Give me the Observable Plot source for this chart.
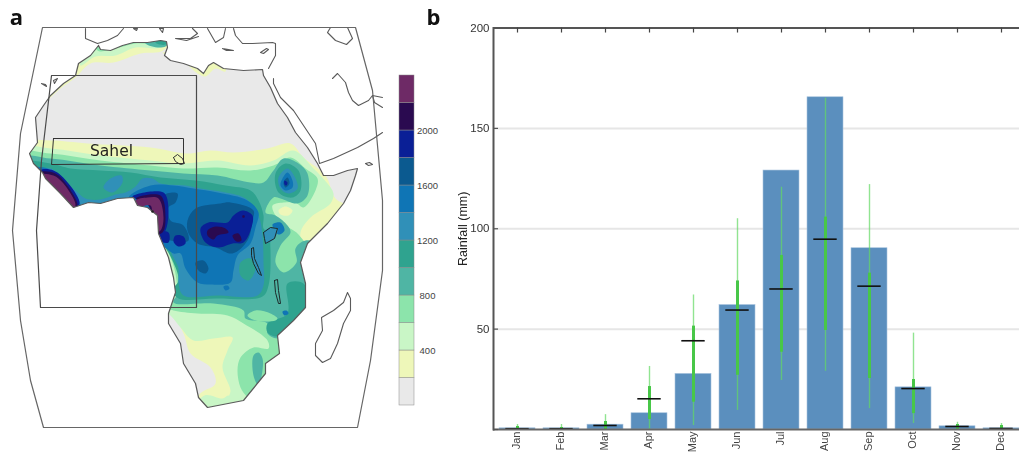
<!DOCTYPE html>
<html>
<head>
<meta charset="utf-8">
<script src="https://cdn.jsdelivr.net/npm/d3@7"></script>
<script src="https://cdn.jsdelivr.net/npm/@observablehq/plot@0.6"></script>
<style>
html,body{margin:0;padding:0;background:#fff;overflow:hidden}
#row{display:flex;width:1019px;height:453px;overflow:hidden}
#row svg{flex:none;display:block;max-width:none;filter:blur(0.45px)}
</style>
</head>
<body>
<div id="row"></div>
<script>
// ---- panel b: monthly rainfall
const months = ["Jan","Feb","Mar","Apr","May","Jun","Jul","Aug","Sep","Oct","Nov","Dec"];
const barValues = [0.6,0.6,2.4,8.1,27.7,62,129,165.5,90.3,21,1.6,0.6];
const medians   = [0.4,0.4,2,15.3,44.2,59.5,70,94.8,71.4,20.4,1.5,0.5];
const rangeLow  = [0,0,0,0,2,9.5,24.4,29,10.4,3,0,0];
const rangeHigh = [2.5,2.5,7.4,31.4,67,105,120.7,165,122,48,3.6,3];
const iqrLow    = [0,0,0,5,13.6,27,38.5,49.3,25.4,7.9,0,0];
const iqrHigh   = [1.5,1,4,21.4,51.5,74,86.7,105.8,77.9,24.9,2.5,2];
const yTicks = [0,50,100,150,200];

// ---- panel a: colour levels (mm)
const levelBreaks = [200,400,600,800,1000,1200,1400,1600,1800,2000,2200];
const levelColors = ["#e9e9e9","#eef7b9","#c9f6c6","#8ce4ab","#4fb5a4","#2fa38f","#3090b8","#0f75b5","#0b5a90","#0a1f96","#2a0a50","#6e2a66"];
const barLabels = ["400","800","1200","1600","2000"];

// ---- map outlines, traced on the map's own grid
const coast = [[98,45],[100,49],[110,50],[122,45],[133,42],[147,42],[160,40],[166,41],[167,47],[164,55],[170,60],[183,63],[197,68],[203,73],[208,65],[213,62],[223,68],[243,70],[262,69],[263,75],[270,87],[277,103],[287,117],[295,132],[307,147],[317,163],[323,175],[333,175],[347,170],[357,168],[355,175],[350,190],[343,203],[327,223],[307,243],[300,262],[305,283],[305,307],[293,320],[277,335],[279,353],[265,363],[265,373],[243,400],[207,407],[198,397],[195,383],[183,363],[180,343],[168,323],[168,313],[175,292],[173,277],[168,257],[158,233],[157,215],[147,207],[137,205],[133,197],[117,198],[100,203],[88,202],[73,207],[60,193],[45,178],[42,172],[33,163],[29,153],[37,142],[35,117],[43,105],[50,95],[63,83],[75,75],[78,63],[90,55]];
const mapFrame = [[42,27],[355,27],[372,90],[382,200],[382,270],[370,360],[357,427],[43,427],[30,380],[20,320],[12,230],[20,133],[42,27]];
const innerBox = [[51,75],[196,75],[196,307],[40,307],[36,230],[41,160],[51,75]];
const sahelBox = [[53,138],[183,138],[183,163],[51,164],[53,138]];
const redSeaEast = [[273,78],[273,83],[280,97],[293,110],[303,125],[315,143],[319,163],[333,158],[357,147],[373,138],[382,132]];
const persianGulf = [[332,78],[337,73],[345,82],[348,92],[352,100],[358,105],[368,100],[372,95],[382,97]];
const omanCoast = [[372,95],[374,102],[382,107]];
const blackSea = [[347,27],[352,38],[346,44],[335,40],[327,32],[330,27]];
const spain = [[85,28],[85,38],[97,43],[107,40],[117,35],[123,28]];
const italy = [[192,28],[197,33],[190,38],[175,38],[186,40],[198,36]];
const greece = [[207,28],[215,42],[223,37],[225,28]];
const turkey = [[233,28],[235,35],[242,43],[252,43],[272,42],[275,43],[275,55],[268,68]];
const balearic = [[133,28],[137,28],[136,30],[133,28]];
const sardinia = [[159,28],[163,28],[162,32],[159,28]];
const crete = [[222,48],[228,49],[233,50],[226,50],[222,48]];
const cyprus = [[260,52],[266,48],[268,49],[263,53],[260,52]];
const socotra = [[365,163],[369,162],[372,164],[368,165],[365,163]];
const canaries = [[41,83],[45,84],[46,86],[41,83]];
const canaries2 = [[53,80],[57,78],[54,83],[53,80]];
const madagascar = [[347,292],[350,298],[350,310],[343,323],[337,343],[330,358],[322,362],[315,355],[315,343],[322,330],[321,317],[333,310],[343,302],[347,292]];
const lakeVictoria = [[263,232],[270,227],[277,228],[274,238],[265,243],[264,238],[263,232]];
const lakeTanganyika = [[251,248],[253,247],[254,258],[258,267],[261,275],[258,273],[253,263],[251,255],[251,248]];
const lakeMalawi = [[274,280],[277,279],[278,290],[280,303],[278,303],[275,292],[274,280]];
const lakeChad = [[173,157],[177,154],[182,158],[184,163],[180,164],[175,161],[173,157]];

// ---- rainfall contours, [level, vertices], painted in order
const contours = [
 [200,[[10,143],[50,140],[87,143],[150,147],[187,153],[210,150],[233,152],[267,148],[290,143],[303,157],[325,175],[335,198],[350,208],[380,300],[300,430],[195,430],[198,395],[215,383],[210,367],[190,353],[183,333],[170,313],[150,310],[130,230],[20,230]]],
 [200,[[40,105],[50,97],[60,88],[75,77],[90,63],[113,62],[140,53],[163,50],[172,35],[90,30],[60,60]]],
 [200,[[162,52],[185,63],[197,73],[205,76],[215,68],[225,71],[222,58],[195,58]]],
 [200,[[262,66],[272,66],[273,76],[266,76]]],
 [400,[[80,65],[95,56],[115,55],[135,47],[160,47],[172,35],[90,35]]],
 [400,[[10,147],[50,148],[100,155],[150,160],[183,163],[217,160],[250,165],[273,160],[293,150],[313,168],[327,183],[333,193],[330,203],[310,217],[300,232],[303,244],[350,250],[350,330],[270,410],[228,400],[230,390],[222,367],[227,350],[232,337],[213,338],[193,340],[180,327],[170,315],[150,300],[130,230],[20,230]]],
 [400,[[228,395],[222,398],[204,395],[190,415],[235,415]]],
 [600,[[97,50],[115,48],[135,43],[165,43],[172,32],[95,32]]],
 [600,[[10,152],[50,153],[100,160],[150,165],[183,168],[217,167],[250,170],[273,165],[290,157],[305,168],[317,178],[315,190],[303,207],[295,202],[283,202],[272,205],[275,215],[285,225],[296,232],[303,240],[308,246],[340,250],[350,330],[300,390],[260,410],[247,397],[240,387],[237,370],[240,357],[253,347],[268,348],[267,340],[243,323],[227,315],[197,313],[173,310],[165,306],[176,296],[176,280],[172,262],[165,248],[150,235],[130,230],[20,230]]],
 [800,[[145,43],[165,46],[172,32],[145,32]]],
 [800,[[10,157],[50,158],[100,165],[150,170],[183,173],[217,175],[250,182],[263,182],[273,170],[283,158],[298,163],[307,173],[307,195],[297,203],[280,198],[273,197],[265,212],[275,215],[287,225],[290,232],[280,245],[275,262],[283,272],[296,262],[295,248],[305,240],[330,250],[340,320],[277,338],[267,333],[267,323],[245,318],[243,310],[213,303],[173,302],[178,292],[180,280],[175,260],[165,245],[150,235],[130,230],[20,230]]],
 [800,[[253,355],[258,352],[262,358],[262,370],[258,385],[253,375]]],
 [1000,[[155,42],[165,44],[170,36],[156,36]]],
 [1000,[[10,163],[50,163],[70,168],[100,170],[130,172],[160,177],[195,180],[225,185],[250,190],[258,200],[263,215],[263,228],[268,232],[270,250],[268,285],[262,296],[215,298],[178,298],[172,290],[178,280],[172,260],[160,240],[150,230],[130,230],[20,230]]],
 [1000,[[287,283],[303,283],[308,307],[293,322],[277,336],[267,332],[267,323],[287,313]]],
 [1000,[[275,173],[285,163],[298,170],[300,190],[292,197],[278,192]]],
 [1200,[[28,172],[50,168],[62,178],[75,190],[85,198],[100,199],[115,194],[125,192],[135,186],[142,178],[152,178],[160,183],[185,185],[200,188],[225,192],[245,198],[258,215],[262,235],[263,263],[263,285],[257,295],[217,295],[183,295],[178,282],[178,268],[172,255],[165,240],[145,228],[28,228]]],
 [1200,[[103,187],[110,178],[121,175],[122,182],[112,192]]],
 [1200,[[278,177],[287,168],[295,178],[297,188],[288,193],[280,188]]],
 [1000,[[240,262],[250,258],[255,268],[248,280],[240,275]]],
 [1400,[[30,168],[47,168],[60,180],[72,193],[80,205],[70,212],[40,190]]],
 [1400,[[128,197],[150,185],[173,185],[193,188],[217,192],[247,200],[258,212],[255,227],[250,243],[237,255],[233,270],[230,282],[210,284],[197,282],[185,268],[180,253],[173,253],[157,240],[150,235],[130,205]]],
 [1400,[[282,178],[287,172],[292,180],[292,187],[285,190],[280,185]]],
 [1400,[[223,286],[227,285],[229,288],[225,290]]],
 [1400,[[272,224],[280,222],[284,230],[278,234]]],
 [1400,[[282,311],[286,310],[288,313],[284,315]]],
 [1600,[[187,220],[195,208],[220,203],[230,202],[253,210],[252,220],[247,240],[232,253],[215,247],[197,243],[188,233]]],
 [1600,[[163,195],[177,193],[175,202],[168,207],[170,220],[183,225],[188,240],[170,240],[155,235],[165,213]]],
 [1600,[[195,262],[203,260],[208,268],[205,273],[198,270]]],
 [1600,[[283,182],[287,177],[289,183],[285,187]]],
 [1800,[[200,228],[208,222],[227,222],[233,215],[242,210],[252,215],[250,230],[243,242],[232,243],[218,247],[205,242]]],
 [1800,[[132,196],[163,192],[168,210],[163,233],[152,233],[150,205]]],
 [1800,[[155,232],[168,232],[168,242],[158,240]]],
 [1800,[[175,235],[183,236],[185,243],[178,246],[173,241]]],
 [1800,[[40,170],[53,170],[68,183],[79,203],[72,209],[42,182]]],
 [1800,[[284,180],[287,182],[286,185],[284,184]]],
 [2000,[[207,230],[215,226],[225,228],[228,232],[217,235],[213,239],[207,235]]],
 [2000,[[232,235],[238,233],[241,240],[236,241]]],
 [2000,[[242,215],[244,215],[244,217],[242,217]]],
 [2000,[[40,172],[55,173],[66,184],[77,205],[72,209],[45,186]]],
 [2000,[[135,198],[160,195],[165,217],[162,232],[152,234],[148,205]]],
 [2200,[[40,174],[53,175],[63,183],[75,205],[70,209],[46,186]]],
 [2200,[[135,200],[147,197],[158,198],[163,217],[160,230],[152,233],[150,205],[135,207]]],
 [600,[[247,315],[255,310],[270,313],[277,318],[275,320],[255,320]]],
 [200,[[278,210],[285,206],[292,210],[288,215],[280,214]]],
 [1200,[[263,232],[270,227],[277,228],[274,238],[265,243],[264,238]]]
];

// ---- build rows for the marks
const contourRows = contours.flatMap(([level, pts], id) => pts.map(([x, y]) => ({x, y, id, level})));
const oceanMask = [...coast, coast[0], [coast[0][0],0],[0,0],[0,453],[395,453],[395,0],[coast[0][0],0]].map(([x,y]) => ({x,y}));
const asRows = (pts) => pts.map(([x,y]) => ({x,y}));
const outline = (pts, o = {}) => Plot.line(asRows(pts), {x:"x", y:"y", stroke:"#5a5a5a", strokeWidth:1.2, ...o});
const closedCoast = [...coast, coast[0]];

const colorScale = {type:"threshold", domain: levelBreaks, range: levelColors};

const mapPlot = Plot.plot({
  width:395, height:453, margin:0,
  x:{domain:[0,395], range:[0,395], axis:null},
  y:{domain:[0,453], range:[0,453], axis:null},
  color: colorScale,
  style:{background:"#fff", fontFamily:"'Liberation Sans', sans-serif"},
  marks:[
    Plot.line(asRows(closedCoast), {x:"x", y:"y", fill:levelColors[0], stroke:"none"}),
    Plot.line(contourRows, {x:"x", y:"y", z:"id", fill:"level", stroke:"none", curve:"catmull-rom-closed"}),
    Plot.line(oceanMask, {x:"x", y:"y", fill:"#fff", stroke:"none"}),
    outline(closedCoast),
    ...[redSeaEast, persianGulf, omanCoast, blackSea, spain, italy, greece, turkey, balearic, sardinia, crete, cyprus, socotra, canaries, canaries2, madagascar].map(p => outline(p, {strokeWidth:1.1})),
    ...[lakeVictoria, lakeTanganyika, lakeMalawi].map(p => outline(p, {stroke:"#1c2a2a", strokeWidth:1})),
    outline(lakeChad, {stroke:"#333", strokeWidth:1}),
    Plot.dot([[152,211]], {x:d=>d[0], y:d=>d[1], r:1.3, fill:"#222"}),
    outline(mapFrame, {stroke:"#666", strokeWidth:1.2}),
    outline(innerBox, {stroke:"#4a4a4a", strokeWidth:1.2}),
    outline(sahelBox, {stroke:"#333", strokeWidth:1}),
    Plot.text(["Sahel"], {x:()=>111, y:()=>151, fontSize:15.5, fontFamily:"'DejaVu Sans', sans-serif", fill:"#222"}),
    Plot.text(["a"], {x:()=>16, y:()=>17, fontSize:22, fontWeight:700, fontFamily:"'Open Sans', sans-serif", fill:"#111"})
  ]
});

const legendRows = levelColors.map((c,i) => ({lo:[0,...levelBreaks][i], hi:[...levelBreaks,2400][i]}));
const legendPlot = Plot.plot({
  width:45, height:453, marginLeft:4, marginRight:26, marginTop:75, marginBottom:48,
  x:{axis:null},
  y:{domain:[0,2400], axis:null},
  color: colorScale,
  style:{background:"#fff", fontFamily:"'Liberation Sans', sans-serif", overflow:"visible"},
  marks:[
    Plot.rect(legendRows, {y1:"lo", y2:"hi", fill:"lo", stroke:"#8a8a8a", strokeWidth:0.5}),
    Plot.text(barLabels, {y:d=>+d, frameAnchor:"right", dx:13, textAnchor:"middle", fontSize:9.5, fill:"#444"}),
    Plot.text(["b"], {frameAnchor:"top-right", lineAnchor:"middle", dx:19, dy:-58, textAnchor:"middle", fontSize:22, fontWeight:700, fontFamily:"'Open Sans', sans-serif", fill:"#111"})
  ]
});

const rows = months.map((m,i) => ({m, v:barValues[i], med:medians[i], lo:rangeLow[i], hi:rangeHigh[i], q1:iqrLow[i], q3:iqrHigh[i]}));
const barPlot = Plot.plot({
  width:579, height:453, marginLeft:53, marginRight:0, marginTop:27.5, marginBottom:24,
  x:{type:"band", domain:months, range:[53,584.6], paddingInner:0.187, paddingOuter:0.0935, align:0.5, label:null},
  y:{domain:[0,200], label:null},
  style:{background:"#fff", fontFamily:"'Liberation Sans', sans-serif", color:"#333"},
  marks:[
    Plot.ruleY([50,100,150], {stroke:"#e6e6e6", strokeWidth:2}),
    Plot.barY(rows, {x:"m", y:"v", fill:"#5b8fbe", stroke:"#a9c4de", strokeWidth:0.6}),
    Plot.ruleX(rows, {x:"m", y1:"lo", y2:"hi", stroke:"#62d862", strokeOpacity:0.7, strokeWidth:1.4}),
    Plot.ruleX(rows, {x:"m", y1:"q1", y2:"q3", stroke:"#48c748", strokeWidth:3}),
    Plot.tickY(rows, {x:"m", y:"med", stroke:"#111", strokeWidth:1.6, insetLeft:6.3, insetRight:6.3}),
    Plot.ruleY([0], {stroke:"#666", strokeWidth:2}),
    Plot.ruleY([200], {stroke:"#555", strokeWidth:2}),
    Plot.frame({anchor:"left", stroke:"#555", strokeWidth:2}),
    Plot.ruleX(months, {x:d=>d, y1:()=>200, y2:()=>197.5, stroke:"#444", strokeWidth:1.2}),
    Plot.axisY({ticks:yTicks, tickSize:-5, tickFormat:()=>"", stroke:"#555", strokeWidth:1.2, label:null}),
    Plot.axisY({ticks:yTicks.slice(1), tickSize:0, tickPadding:4, fontSize:11.5, fill:"#333", label:null}),
    Plot.axisX({tickRotate:-90, tickSize:0, tickPadding:2, fontSize:11, fill:"#444", label:null, dx:-1}),
    Plot.text(["Rainfall (mm)"], {frameAnchor:"left", rotate:-90, dx:-31, textAnchor:"middle", fontSize:12.5, fill:"#222"})
  ]
});

const row = document.getElementById("row");
row.append(mapPlot, legendPlot, barPlot);
</script>
</body>
</html>
